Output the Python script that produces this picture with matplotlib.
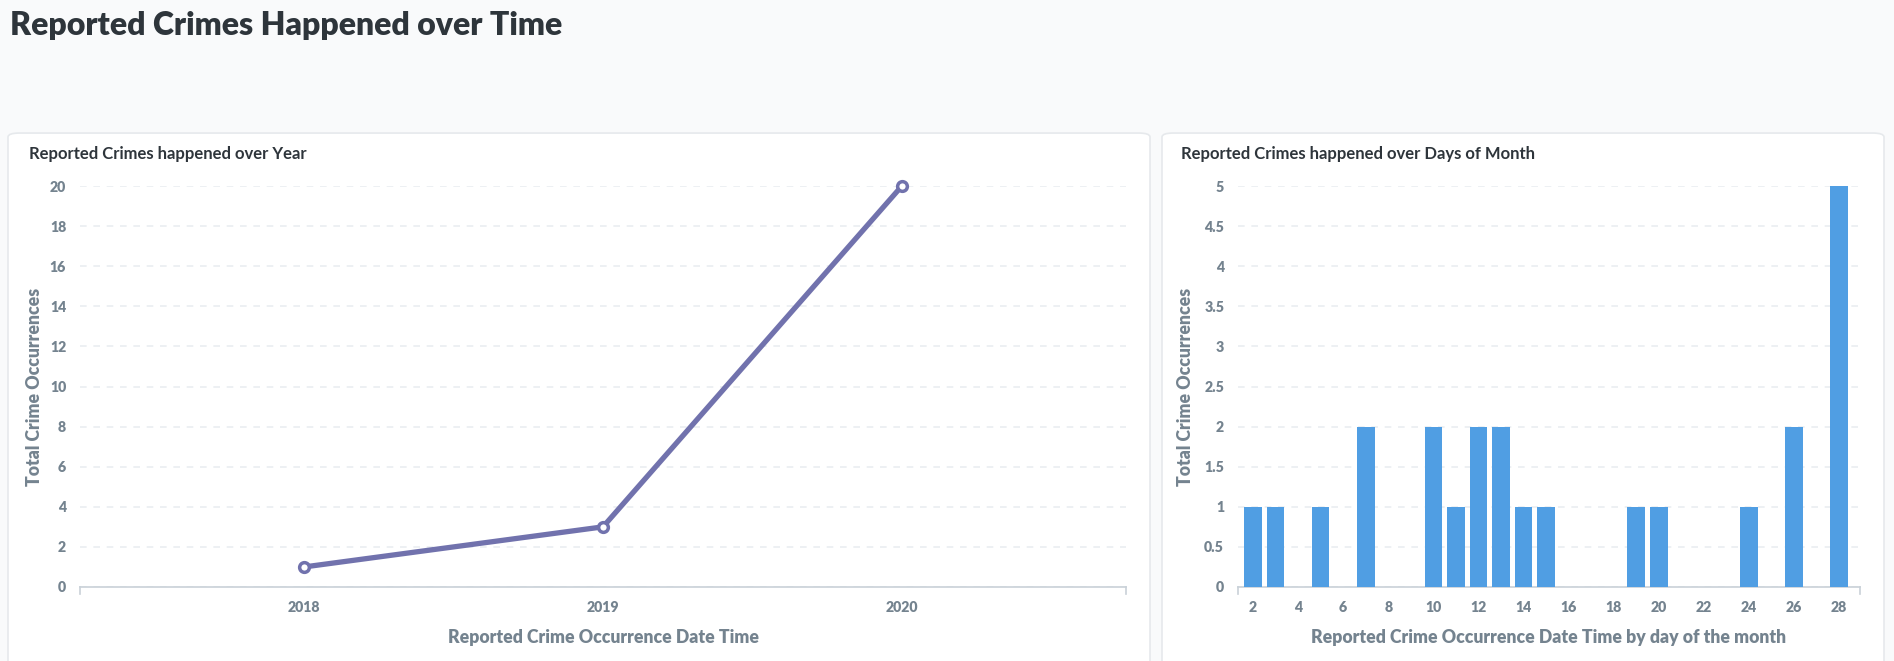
import matplotlib.pyplot as plt
from matplotlib.patches import FancyBboxPatch

years = [2018, 2019, 2020]
year_counts = [1, 3, 20]

days = [2, 3, 5, 7, 10, 11, 12, 13, 14, 15, 19, 20, 24, 26, 28]
day_counts = [1, 1, 1, 2, 2, 1, 2, 2, 1, 1, 1, 1, 1, 2, 5]
day_ticks = list(range(2, 29, 2))
day_yticks = [0, 0.5, 1, 1.5, 2, 2.5, 3, 3.5, 4, 4.5, 5]
day_ylabels = ['0', '0.5', '1', '1.5', '2', '2.5', '3', '3.5', '4', '4.5', '5']

plt.rcParams['font.family'] = ['Lato', 'DejaVu Sans']
plt.rcParams['font.weight'] = 'heavy'

W, H = 1894, 661
dark = '#2E353B'
gray = '#74838F'
grid = '#EAEEF1'

fig = plt.figure(figsize=(W / 100, H / 100), dpi=100)
fig.patch.set_facecolor('#F9FAFB')


def px(x, y):
    return x / W, 1 - y / H


# cards
for x0, x1 in [(8, 1150), (1162, 1884)]:
    card = FancyBboxPatch((x0 / W, -0.05), (x1 - x0) / W, (H + 30 - 130) / H,
                          boxstyle='round,pad=0,rounding_size=0.006',
                          transform=fig.transFigure, facecolor='white',
                          edgecolor='#E6E9EC', linewidth=1.2, zorder=-5)
    fig.patches.append(card)

fig.text(*px(10, 26), 'Reported Crimes Happened over Time', fontsize=23,
         fontweight='heavy', color=dark, va='center', ha='left')
fig.text(*px(29, 154), 'Reported Crimes happened over Year', fontsize=12,
         fontweight='bold', color=dark, va='center', ha='left')
fig.text(*px(1181, 154), 'Reported Crimes happened over Days of Month', fontsize=12,
         fontweight='bold', color=dark, va='center', ha='left')


def style(ax):
    ax.set_facecolor('none')
    for s in ['top', 'right', 'left']:
        ax.spines[s].set_visible(False)
    ax.spines['bottom'].set_color('#C9D1D8')
    ax.spines['bottom'].set_linewidth(1.2)
    ax.grid(axis='y', color=grid, linestyle=(0, (4, 4)), linewidth=1.2)
    ax.set_axisbelow(True)
    ax.tick_params(axis='both', length=0, labelcolor=gray, labelsize=10.2)
    ax.tick_params(axis='y', pad=10)
    ax.tick_params(axis='x', pad=10)


lab = dict(fontsize=12.7, fontweight='heavy', color=gray)

# left: line over years
ax1 = fig.add_axes([80 / W, (H - 587) / H, (1126 - 80) / W, (587 - 186) / H])
ax1.plot(years, year_counts, color='#7172AD', linewidth=3.8, marker='o',
         markersize=7, markerfacecolor='white', markeredgewidth=2.5,
         solid_capstyle='round', zorder=3, clip_on=False)
ax1.set_xlim(2017.25, 2020.75)
ax1.set_ylim(0, 20)
ax1.set_xticks(years)
ax1.set_yticks(range(0, 21, 2))
style(ax1)
ax1.set_xlabel('Reported Crime Occurrence Date Time', labelpad=11, **lab)
ax1.set_ylabel('Total Crime Occurrences', labelpad=5, **lab)
for xe in ax1.get_xlim():
    ax1.plot([xe, xe], [0, -0.35], color='#C9D1D8', lw=1.2, clip_on=False)

# right: bars over days of month
ax2 = fig.add_axes([1238 / W, (H - 587) / H, (1860 - 1238) / W, (587 - 186) / H])
ax2.bar(days, day_counts, width=0.78, color='#509EE3', zorder=3)
ax2.set_xlim(1.33, 28.93)
ax2.set_ylim(0, 5)
ax2.set_xticks(day_ticks)
ax2.set_yticks(day_yticks)
ax2.set_yticklabels(day_ylabels)
style(ax2)
ax2.set_xlabel('Reported Crime Occurrence Date Time by day of the month',
               labelpad=11, **lab)
ax2.set_ylabel('Total Crime Occurrences', labelpad=7, **lab)
for xe in ax2.get_xlim():
    ax2.plot([xe, xe], [0, -0.09], color='#C9D1D8', lw=1.2, clip_on=False)

fig.savefig('out.png', dpi=100, facecolor=fig.get_facecolor())
